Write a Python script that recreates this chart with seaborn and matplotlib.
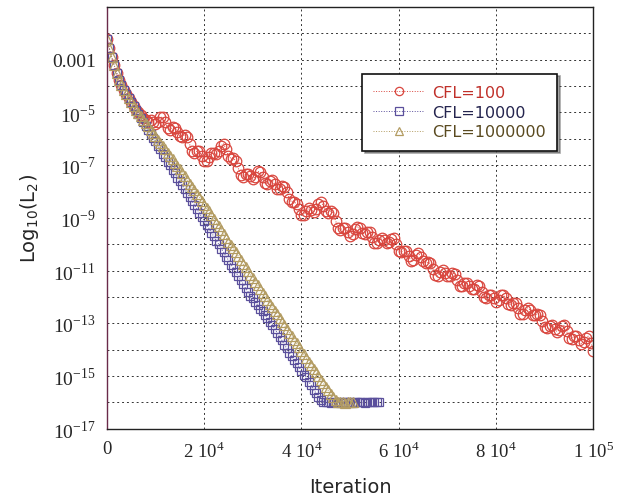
import numpy as np
import pandas as pd
import matplotlib
matplotlib.use("Agg")
import matplotlib.pyplot as plt
import seaborn as sns

# residual history as log10(L2), one value every 500 iterations
iter_cfl100 = list(range(0, 100001, 500))
log_cfl100 = [
    -2.20, -2.55, -2.90, -3.20, -3.50, -3.75, -3.95, -4.15, -4.30, -4.45,
    -4.60, -4.75, -4.90, -5.00, -5.10, -5.20, -5.30, -5.35, -5.28, -5.35,
    -5.44, -5.38, -5.19, -5.18, -5.35, -5.59, -5.65, -5.57, -5.58, -5.73,
    -5.89, -5.93, -5.84, -5.93, -6.20, -6.47, -6.55, -6.47, -6.48, -6.65,
    -6.84, -6.83, -6.69, -6.53, -6.55, -6.59, -6.45, -6.27, -6.18, -6.40,
    -6.64, -6.75, -6.74, -6.83, -7.10, -7.37, -7.45, -7.34, -7.33, -7.43,
    -7.54, -7.45, -7.24, -7.26, -7.45, -7.67, -7.70, -7.59, -7.58, -7.73,
    -7.89, -7.90, -7.79, -7.81, -8.00, -8.29, -8.40, -8.39, -8.48, -8.68,
    -8.89, -8.88, -8.74, -8.63, -8.70, -8.77, -8.65, -8.47, -8.38, -8.55,
    -8.74, -8.80, -8.74, -8.83, -9.10, -9.37, -9.45, -9.37, -9.38, -9.53,
    -9.69, -9.63, -9.44, -9.33, -9.40, -9.59, -9.60, -9.52, -9.53, -9.73,
    -9.94, -9.95, -9.84, -9.76, -9.85, -9.97, -9.90, -9.79, -9.78, -10.00,
    -10.24, -10.30, -10.24, -10.26, -10.45, -10.62, -10.60, -10.42, -10.33, -10.48,
    -10.64, -10.73, -10.69, -10.73, -10.95, -11.17, -11.20, -11.04, -10.98, -11.08,
    -11.19, -11.20, -11.09, -11.13, -11.35, -11.57, -11.60, -11.49, -11.48, -11.58,
    -11.69, -11.68, -11.54, -11.58, -11.80, -12.02, -12.05, -11.94, -11.93, -12.05,
    -12.19, -12.13, -11.94, -11.91, -12.05, -12.27, -12.30, -12.22, -12.23, -12.43,
    -12.64, -12.63, -12.49, -12.41, -12.50, -12.69, -12.70, -12.64, -12.68, -12.90,
    -13.14, -13.18, -13.09, -13.06, -13.20, -13.32, -13.25, -13.12, -13.08, -13.30,
    -13.54, -13.58, -13.49, -13.48, -13.65, -13.77, -13.70, -13.54, -13.48, -13.75,
    -14.04,
]

iter_cfl1e4 = list(range(0, 56001, 500))
log_cfl1e4 = [
    -2.20, -2.55, -2.90, -3.20, -3.50, -3.75, -3.95, -4.15, -4.30, -4.47,
    -4.60, -4.77, -4.90, -5.07, -5.20, -5.37, -5.50, -5.67, -5.80, -5.97,
    -6.10, -6.27, -6.40, -6.57, -6.70, -6.87, -7.00, -7.17, -7.30, -7.47,
    -7.60, -7.77, -7.90, -8.07, -8.20, -8.37, -8.50, -8.67, -8.80, -8.97,
    -9.10, -9.27, -9.40, -9.57, -9.70, -9.87, -10.00, -10.17, -10.30, -10.47,
    -10.60, -10.77, -10.90, -11.07, -11.20, -11.37, -11.50, -11.67, -11.80, -11.95,
    -12.05, -12.20, -12.30, -12.45, -12.55, -12.70, -12.80, -12.95, -13.05, -13.22,
    -13.35, -13.52, -13.65, -13.82, -13.95, -14.12, -14.25, -14.40, -14.50, -14.67,
    -14.80, -14.95, -15.05, -15.22, -15.35, -15.52, -15.65, -15.80, -15.90, -15.97,
    -16.00, -16.00, -16.02, -16.00, -15.98, -16.00, -16.02, -16.00, -16.00, -15.98,
    -16.00, -16.02, -16.00, -16.00, -15.98, -16.00, -16.02, -16.00, -16.00, -15.98,
    -16.00, -16.00, -16.00,
]

iter_cfl1e6 = list(range(0, 50501, 500))
log_cfl1e6 = [
    -2.20, -2.55, -2.90, -3.20, -3.50, -3.75, -3.95, -4.15, -4.30, -4.45,
    -4.60, -4.75, -4.90, -5.02, -5.15, -5.28, -5.40, -5.53, -5.65, -5.78,
    -5.90, -6.03, -6.15, -6.28, -6.40, -6.53, -6.65, -6.78, -6.90, -7.03,
    -7.15, -7.28, -7.40, -7.55, -7.70, -7.83, -7.95, -8.08, -8.20, -8.35,
    -8.50, -8.63, -8.75, -8.90, -9.05, -9.18, -9.30, -9.45, -9.60, -9.75,
    -9.90, -10.03, -10.15, -10.30, -10.45, -10.60, -10.75, -10.88, -11.00, -11.15,
    -11.30, -11.43, -11.55, -11.70, -11.85, -11.98, -12.10, -12.25, -12.40, -12.53,
    -12.65, -12.80, -12.95, -13.08, -13.20, -13.35, -13.50, -13.63, -13.75, -13.90,
    -14.05, -14.18, -14.30, -14.45, -14.60, -14.73, -14.85, -15.00, -15.15, -15.28,
    -15.40, -15.55, -15.70, -15.80, -15.90, -15.97, -16.00, -16.00, -16.02, -16.00,
    -15.98, -16.00,
]

series_names = ["CFL=100", "CFL=10000", "CFL=1000000"]
line_colors = ["#d9463e", "#5b509c", "#b39c62"]
text_colors = ["#c0302a", "#24244e", "#5a4a20"]
marker_shapes = ["o", "s", "^"]
marker_sizes = [7.6, 5.6, 7.2]

xtick_values = [0, 20000, 40000, 60000, 80000, 100000]
xtick_labels = ["0", r"2 10$^{4}$", r"4 10$^{4}$", r"6 10$^{4}$", r"8 10$^{4}$", r"1 10$^{5}$"]
ytick_exps = list(range(-17, 0))
ytick_labels = {-3: "0.001", -5: r"10$^{-5}$", -7: r"10$^{-7}$", -9: r"10$^{-9}$",
                -11: r"10$^{-11}$", -13: r"10$^{-13}$", -15: r"10$^{-15}$", -17: r"10$^{-17}$"}

frames = []
for name, its, logs in zip(series_names,
                           [iter_cfl100, iter_cfl1e4, iter_cfl1e6],
                           [log_cfl100, log_cfl1e4, log_cfl1e6]):
    frames.append(pd.DataFrame({"Iteration": its, "L2": np.power(10.0, logs), "case": name}))
df = pd.concat(frames, ignore_index=True)

sns.set_style("white")
plt.rcParams["font.family"] = ["DejaVu Sans"]
plt.rcParams["mathtext.fontset"] = "custom"
plt.rcParams["mathtext.rm"] = "Liberation Serif"
plt.rcParams["mathtext.sf"] = "DejaVu Sans"

fig = plt.figure(figsize=(6.32, 5.02), dpi=100)
ax = fig.add_axes([0.169, 0.144, 0.77, 0.84])

for name, col, mk, sz in zip(series_names, line_colors, marker_shapes, marker_sizes):
    sns.lineplot(data=df[df["case"] == name], x="Iteration", y="L2", ax=ax,
                 color=col, linestyle=":", linewidth=0.7, marker=mk,
                 markersize=sz, markerfacecolor="none", markeredgecolor=col,
                 markeredgewidth=0.9, label=name, sort=False, estimator=None)

ax.set_yscale("log")
ax.set_xlim(0, 100000)
ax.set_ylim(1e-17, 1e-1)
ax.set_xticks(xtick_values)
ax.set_xticklabels(xtick_labels, fontfamily="Liberation Serif", fontsize=13.5)
ax.set_yticks([10.0 ** e for e in ytick_exps])
ax.set_yticklabels([ytick_labels.get(e, "") for e in ytick_exps],
                   fontfamily="Liberation Serif", fontsize=14)
ax.minorticks_off()
ax.tick_params(length=0, pad=8)
ax.grid(True, color="#333333", linestyle=(0, (2, 3)), linewidth=0.7)

for side in ["left", "right", "top", "bottom"]:
    ax.spines[side].set_color("#222222")
    ax.spines[side].set_linewidth(1.0)
ax.spines["left"].set_color("#6a2a4a")

ax.set_xlabel("Iteration", fontsize=14, labelpad=12)
ax.set_ylabel(r"Log$_{\mathsf{10}}$(L$_{\mathsf{2}}$)", fontsize=14, labelpad=8)

leg = ax.legend(loc="upper left", bbox_to_anchor=(0.524, 0.842), borderaxespad=0,
                frameon=True, fancybox=False, shadow=True, fontsize=11.5,
                handlelength=3.2, borderpad=0.7, labelspacing=0.3, handletextpad=0.5)
leg.get_frame().set_edgecolor("#111111")
leg.get_frame().set_linewidth(1.2)
for txt, col in zip(leg.get_texts(), text_colors):
    txt.set_color(col)
for h in leg.legend_handles:
    h.set_markersize(6)

fig.savefig("out.png", dpi=100)
